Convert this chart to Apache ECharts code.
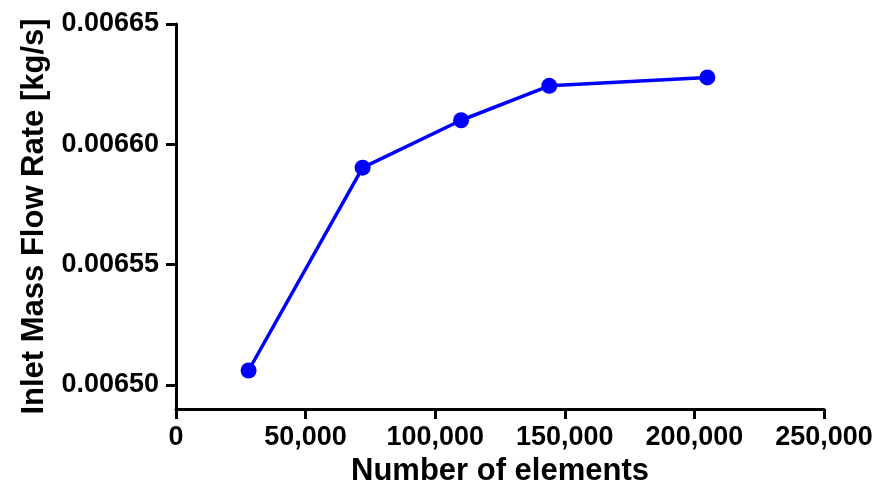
<!DOCTYPE html>
<html>
<head>
<meta charset="utf-8">
<script src="https://cdn.jsdelivr.net/npm/echarts@6/dist/echarts.min.js"></script>
<style>html,body{margin:0;padding:0;background:#fff;}#c{width:884px;height:500px;}</style>
</head>
<body>
<div id="c"></div>
<script>
const elements = [28000, 72000, 110000, 144000, 205000];
const flowRate = [0.006506, 0.0065903, 0.006610, 0.0066243, 0.0066278];
const yTicks = [0.0065, 0.00655, 0.0066, 0.00665];
const xTicks = [0, 50000, 100000, 150000, 200000, 250000];
const xTitle = 'Number of elements';
const yTitle = 'Inlet Mass Flow Rate [kg/s]';

const FONT = '"Liberation Sans", Arial, sans-serif';
const chart = echarts.init(document.getElementById('c'), null, {renderer: 'canvas'});
chart.setOption({
  animation: false,
  backgroundColor: '#ffffff',
  grid: {left: 176, right: 60, top: 24, bottom: 91, containLabel: false},
  xAxis: {
    type: 'value', min: 0, max: 250000, interval: 50000,
    name: xTitle, nameLocation: 'middle', nameGap: 44,
    nameTextStyle: {fontFamily: FONT, fontWeight: 'bold', fontSize: 31, color: '#000'},
    axisLine: {show: true, lineStyle: {color: '#000', width: 3}},
    axisTick: {show: true, length: 10, lineStyle: {color: '#000', width: 3}, customValues: xTicks},
    axisLabel: {fontFamily: FONT, fontWeight: 'bold', fontSize: 27, color: '#000', margin: 15,
      customValues: xTicks,
      formatter: v => v.toLocaleString('en-US')},
    splitLine: {show: false}
  },
  yAxis: {
    type: 'value', min: 0.00649, max: 0.00665,
    name: yTitle, nameLocation: 'middle', nameGap: 126, nameRotate: 90,
    nameTextStyle: {fontFamily: FONT, fontWeight: 'bold', fontSize: 31, color: '#000'},
    axisLine: {show: true, lineStyle: {color: '#000', width: 3}},
    axisTick: {show: true, length: 10, lineStyle: {color: '#000', width: 3}, customValues: yTicks},
    axisLabel: {fontFamily: FONT, fontWeight: 'bold', fontSize: 27, color: '#000', margin: 17,
      customValues: yTicks,
      formatter: v => v.toFixed(5)},
    splitLine: {show: false}
  },
  series: [{
    type: 'line',
    data: elements.map((x, i) => [x, flowRate[i]]),
    symbol: 'circle', symbolSize: 16,
    lineStyle: {color: '#0000ff', width: 3.5},
    itemStyle: {color: '#0000ff'}
  }]
});
</script>
</body>
</html>
